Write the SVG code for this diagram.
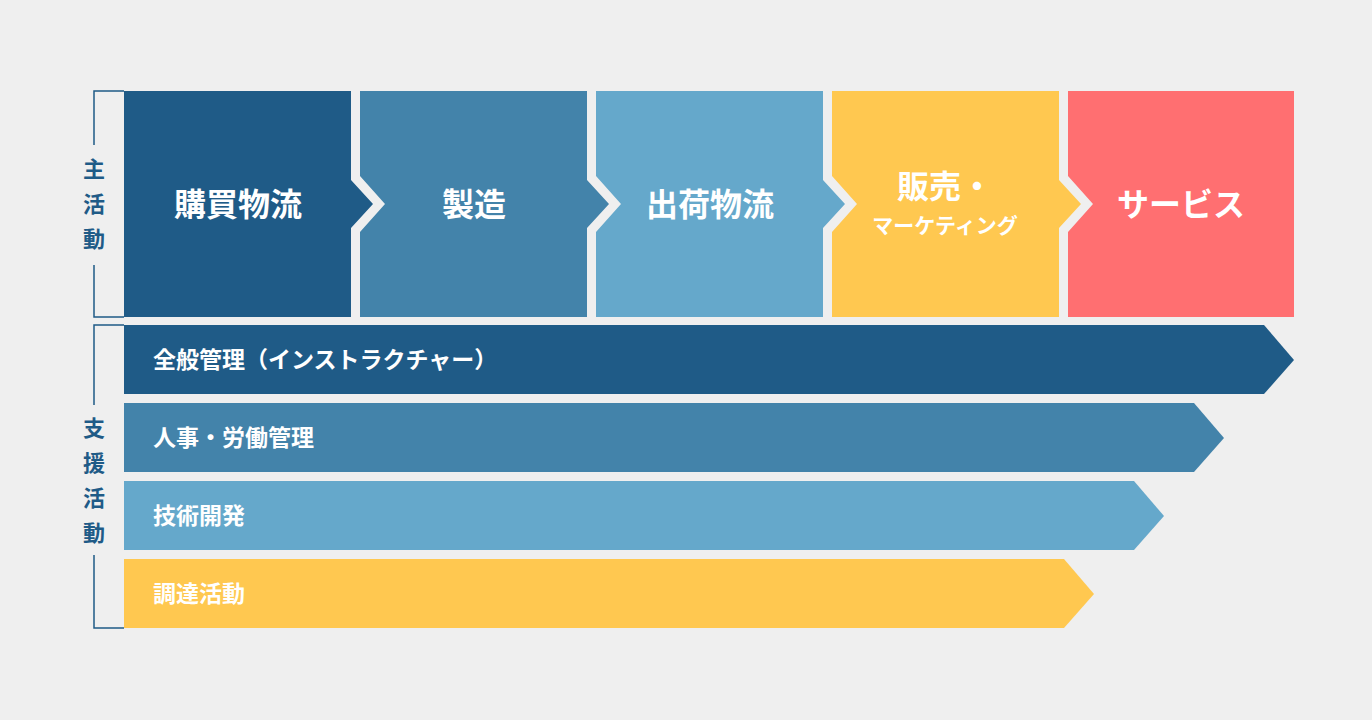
<svg xmlns="http://www.w3.org/2000/svg" width="1372" height="720" viewBox="0 0 1372 720">
<style>
text{font-family:"Noto Sans CJK JP",sans-serif;font-weight:bold}
.w{fill:#fff;text-anchor:middle}
.b{fill:#fff;font-size:23px}
.l{fill:#1f5b87;font-size:22px;text-anchor:middle}
.br{fill:none;stroke:#1f5b87;stroke-width:1.5}
</style>
<rect width="1372" height="720" fill="#efefef"/>
<g id="bracket-main"><path class="br" d="M124,91H94V145M94,265V317H124"/><text class="l" x="94" y="177">主</text><text class="l" x="94" y="212">活</text><text class="l" x="94" y="247">動</text></g>
<g id="bracket-support"><path class="br" d="M124,325H94V405M94,555V628H124"/><text class="l" x="94" y="436">支</text><text class="l" x="94" y="471">援</text><text class="l" x="94" y="506">活</text><text class="l" x="94" y="541">動</text></g>
<g id="n1"><polygon fill="#1f5b87" points="124,91 351,91 351,180 373,204 351,228 351,317 124,317"/><text class="w" x="238" y="216" font-size="32">購買物流</text></g>
<g id="n2"><polygon fill="#4383aa" points="360,91 587,91 587,180 609,204 587,228 587,317 360,317 360,232 385,204 360,176"/><text class="w" x="474" y="216" font-size="32">製造</text></g>
<g id="n3"><polygon fill="#65a8cb" points="596,91 823,91 823,180 845,204 823,228 823,317 596,317 596,232 621,204 596,176"/><text class="w" x="710" y="216" font-size="32">出荷物流</text></g>
<g id="n4"><polygon fill="#ffc850" points="832,91 1059,91 1059,180 1081,204 1059,228 1059,317 832,317 832,232 857,204 832,176"/><text class="w" x="945" y="198" font-size="32">販売・</text><text class="w" x="945" y="233" font-size="21">マーケティング</text></g>
<g id="n5"><polygon fill="#ff6f71" points="1068,91 1294,91 1294,317 1068,317 1068,232 1093,204 1068,176"/><text class="w" x="1181" y="216" font-size="32">サービス</text></g>
<g id="s1"><polygon fill="#1f5b87" points="124,325 1264,325 1294,360 1264,394 124,394"/><text class="b" x="153" y="368">全般管理（インストラクチャー）</text></g>
<g id="s2"><polygon fill="#4383aa" points="124,403 1194,403 1224,438 1194,472 124,472"/><text class="b" x="153" y="446">人事・労働管理</text></g>
<g id="s3"><polygon fill="#65a8cb" points="124,481 1134,481 1164,516 1134,550 124,550"/><text class="b" x="153" y="524">技術開発</text></g>
<g id="s4"><polygon fill="#ffc850" points="124,559 1064,559 1094,594 1064,628 124,628"/><text class="b" x="153" y="602">調達活動</text></g>
<g id="connectors"/>
</svg>
